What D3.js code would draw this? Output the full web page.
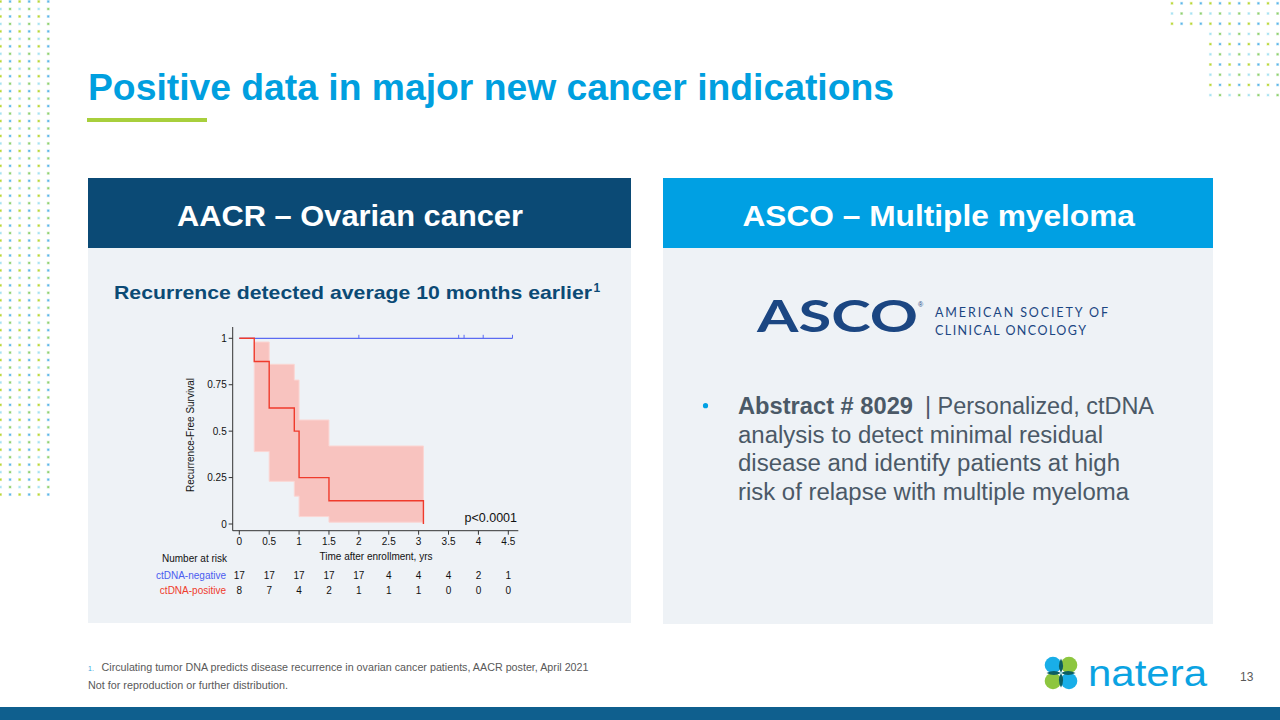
<!DOCTYPE html>
<html>
<head>
<meta charset="utf-8">
<script src="https://cdn.jsdelivr.net/npm/d3@7"></script>
<style>
  html, body { margin: 0; padding: 0; background: #fff; }
  svg { display: block; font-family: "Liberation Sans", Arial, sans-serif; }
</style>
</head>
<body>
<div id="slide"></div>
<script>
// --- chart data ---
const timeTicks = [0, 0.5, 1, 1.5, 2, 2.5, 3, 3.5, 4, 4.5];
const survTicks = [0, 0.25, 0.5, 0.75, 1];
const posTimes = [0, 0.25, 0.5, 0.92, 1.0, 1.5, 3.08];
const posSurv = [1, 0.875, 0.625, 0.5, 0.25, 0.125, 0];
const ciTimes = [0.25, 0.5, 0.92, 1.0, 1.5, 3.08];
const ciUpper = [0.98, 0.86, 0.775, 0.56, 0.42, 0.42];
const ciLower = [0.39, 0.23, 0.15, 0.04, 0.01, 0.01];
const negTimes = [0, 4.57];
const negSurv = [1, 1];
const negCensored = [2.0, 3.67, 3.76, 4.08, 4.57];
const riskLabels = ["ctDNA-negative", "ctDNA-positive"];
const atRiskNeg = [17, 17, 17, 17, 17, 4, 4, 4, 2, 1];
const atRiskPos = [8, 7, 4, 2, 1, 1, 1, 0, 0, 0];

const W = 1280, H = 720;
const svg = d3.select("#slide").append("svg")
  .attr("width", W).attr("height", H)
  .attr("viewBox", [0, 0, W, H]);

// --- decorative dot grids ---
const dotColors = [["#b9d636", "#5db6e8"], ["#a6e2f2", "#8fd070"]];
function dotGrid(cols, rows, x0, dx, y0, dy, skip) {
  const g = svg.append("g");
  rows.forEach(r => cols.forEach(c => {
    if (skip && skip(c, r)) return;
    const col = dotColors[r % 2][c % 2];
    g.append("rect")
      .attr("x", x0 + c * dx - 1.5).attr("y", y0 + r * dy - 1.5)
      .attr("width", 3).attr("height", 3)
      .attr("fill", col).attr("opacity", 0.35);
    g.append("rect")
      .attr("x", x0 + c * dx - 0.9).attr("y", y0 + r * dy - 0.9)
      .attr("width", 1.8).attr("height", 1.8)
      .attr("fill", col);
  }));
}
dotGrid(d3.range(6), d3.range(67), 0.5, 9.55, 1.5, 7.47);
dotGrid(d3.range(12), d3.range(10), 1172, 9.6, 3.3, 10.2, (c, r) => c < 4 && r > 2);

// fitted text helper: slide text is set wider than Liberation Sans, so stretch to the measured width
function fitText(sel, x, yy, str, len, attrs) {
  const t = sel.append("text").attr("x", x).attr("y", yy)
    .attr("textLength", len).attr("lengthAdjust", "spacingAndGlyphs").text(str);
  Object.entries(attrs || {}).forEach(([k, v]) => t.attr(k, v));
  return t;
}

// --- title ---
fitText(svg, 88, 100, "Positive data in major new cancer indications", 806,
  { "font-size": 36, "font-weight": "bold", fill: "#009fdf" });
svg.append("rect")
  .attr("x", 87).attr("y", 118).attr("width", 120).attr("height", 4)
  .attr("fill", "#a8cf3c");

// --- panels ---
function panel(x, w, headColor, title, tx, tlen, bottom) {
  svg.append("rect").attr("x", x).attr("y", 248).attr("width", w).attr("height", bottom - 248)
    .attr("fill", "#eef2f6");
  svg.append("rect").attr("x", x).attr("y", 178).attr("width", w).attr("height", 70)
    .attr("fill", headColor);
  fitText(svg, tx, 226, title, tlen,
    { "font-size": 29.5, "font-weight": "bold", fill: "#fff" });
}
panel(88, 543, "#0b4a75", "AACR \u2013 Ovarian cancer", 177, 346, 623);
panel(663, 550, "#00a0e3", "ASCO \u2013 Multiple myeloma", 742.5, 392.5, 624);

fitText(svg, 114, 299, "Recurrence detected average 10 months earlier", 478,
  { "font-size": 19, "font-weight": "bold", fill: "#0b4a75" });
svg.append("text").attr("x", 593.5).attr("y", 292).attr("font-size", 12)
  .attr("font-weight", "bold").attr("fill", "#0b4a75").text("1");

// --- Kaplan-Meier chart ---
const x = d3.scaleLinear().domain([0, 4.5]).range([239.3, 508.3]);
const y = d3.scaleLinear().domain([0, 1]).range([524, 338.3]);
const km = svg.append("g").attr("font-size", 10).attr("fill", "#111");

// confidence band
const band = ciTimes.map((t, i) => ({ t, hi: ciUpper[i], lo: ciLower[i] }));
km.append("path")
  .datum(band)
  .attr("fill", "#f8c3bf")
  .attr("stroke", "#fbd6d3")
  .attr("stroke-width", 1)
  .attr("d", d3.area().curve(d3.curveStepAfter)
    .x(d => x(d.t)).y0(d => y(d.lo)).y1(d => y(d.hi)));

// axes
const axisColor = "#333";
km.append("line")
  .attr("x1", 232.7).attr("x2", 232.7).attr("y1", 327).attr("y2", 530.7)
  .attr("stroke", axisColor);
km.append("line")
  .attr("x1", 232.7).attr("x2", 518.3).attr("y1", 530.7).attr("y2", 530.7)
  .attr("stroke", axisColor);
const xt = km.append("g").selectAll("g").data(timeTicks).join("g")
  .attr("transform", d => `translate(${x(d)},530.7)`);
xt.append("line").attr("y2", 4).attr("stroke", axisColor);
xt.append("text").attr("y", 14).attr("text-anchor", "middle")
  .text(d => d3.format("~g")(d));
const yt = km.append("g").selectAll("g").data(survTicks).join("g")
  .attr("transform", d => `translate(232.7,${y(d)})`);
yt.append("line").attr("x2", -4).attr("stroke", axisColor);
yt.append("text").attr("x", -6).attr("dy", "0.35em").attr("text-anchor", "end")
  .text(d => d3.format("~g")(d));

km.append("text")
  .attr("transform", "translate(194,435) rotate(-90)")
  .attr("text-anchor", "middle")
  .text("Recurrence-Free Survival");
km.append("text")
  .attr("x", 376).attr("y", 560).attr("text-anchor", "middle")
  .text("Time after enrollment, yrs");

// curves
const step = d3.line().curve(d3.curveStepAfter).x(d => x(d[0])).y(d => y(d[1]));
km.append("path")
  .datum(d3.zip(negTimes, negSurv))
  .attr("fill", "none").attr("stroke", "#5b6bf2").attr("stroke-width", 1.2)
  .attr("d", step);
km.append("g").selectAll("line").data(negCensored).join("line")
  .attr("x1", d => x(d)).attr("x2", d => x(d))
  .attr("y1", y(1)).attr("y2", y(1) - 3.5)
  .attr("stroke", "#5b6bf2").attr("stroke-width", 1);
km.append("path")
  .datum(d3.zip(posTimes, posSurv))
  .attr("fill", "none").attr("stroke", "#ef3b2c").attr("stroke-width", 1.4)
  .attr("d", step);

km.append("text")
  .attr("x", 517).attr("y", 522).attr("text-anchor", "end")
  .attr("font-size", 12.5)
  .text("p<0.0001");

// number at risk
km.append("text").attr("x", 162).attr("y", 562).text("Number at risk");
const riskColors = ["#4b5cf0", "#ef3b2c"];
[atRiskNeg, atRiskPos].forEach((row, i) => {
  const ry = 578.5 + i * 15.7;
  km.append("text").attr("x", 226).attr("y", ry).attr("text-anchor", "end")
    .attr("fill", riskColors[i]).text(riskLabels[i]);
  km.append("g").selectAll("text").data(row).join("text")
    .attr("x", (d, j) => x(timeTicks[j])).attr("y", ry)
    .attr("text-anchor", "middle")
    .text(d => d);
});

// --- ASCO logo ---
const navy = "#1b4682";
svg.append("text")
  .attr("x", 757).attr("y", 331.7)
  .attr("font-family", "Lato, 'Noto Sans', sans-serif")
  .attr("font-size", 43).attr("font-weight", 700)
  .attr("textLength", 161).attr("lengthAdjust", "spacingAndGlyphs")
  .attr("fill", navy).text("ASCO");
svg.append("text")
  .attr("x", 918).attr("y", 307).attr("font-size", 7).attr("fill", navy).text("\u00ae");
const sm = svg.append("g")
  .attr("font-family", "Lato, 'Noto Sans', sans-serif")
  .attr("font-size", 12.5).attr("fill", navy);
sm.append("text").attr("x", 935).attr("y", 316.7)
  .attr("textLength", 173).attr("lengthAdjust", "spacing").text("AMERICAN SOCIETY OF");
sm.append("text").attr("x", 935).attr("y", 335)
  .attr("textLength", 151).attr("lengthAdjust", "spacing").text("CLINICAL ONCOLOGY");

// --- bullet ---
svg.append("circle").attr("cx", 705.5).attr("cy", 405.7).attr("r", 2.6).attr("fill", "#00a0e3");
const bulletBold = "Abstract # 8029";
const bulletLines = [
  "| Personalized, ctDNA",
  "analysis to detect minimal residual",
  "disease and identify patients at high",
  "risk of relapse with multiple myeloma"
];
const bulletLens = [229, 365, 382, 391];
const bodyCol = "#4b5967";
fitText(svg, 738, 414, bulletBold, 175,
  { "font-size": 23.3, "font-weight": "bold", fill: bodyCol });
fitText(svg, 925, 414, bulletLines[0], bulletLens[0], { "font-size": 23.3, fill: bodyCol });
bulletLines.slice(1).forEach((ln, i) => {
  fitText(svg, 738, 414 + (i + 1) * 28.6, ln, bulletLens[i + 1],
    { "font-size": 23.3, fill: bodyCol });
});

// --- footnotes ---
svg.append("text").attr("x", 88).attr("y", 671).attr("font-size", 7)
  .attr("fill", "#3aa6dd").text("1.");
fitText(svg, 101.5, 671,
  "Circulating tumor  DNA  predicts disease recurrence in ovarian cancer patients, AACR poster, April 2021",
  487, { "font-size": 10.3, fill: "#595959" });
fitText(svg, 88, 689, "Not  for reproduction or further distribution.", 200,
  { "font-size": 10.3, fill: "#595959" });

// --- natera logo ---
const logo = svg.append("g").attr("transform", "translate(1061,673)");
[[-8, -8, "#19aee8"], [8, -8, "#8dc63f"], [-8, 8, "#8dc63f"], [8, 8, "#19aee8"]]
  .forEach(([cx, cy, c]) => logo.append("circle").attr("cx", cx).attr("cy", cy).attr("r", 8.3).attr("fill", c));
[0, 90, 180, 270].forEach(a => logo.append("path")
  .attr("d", "M0,0Q4.2,-7 0,-14.5Q-4.2,-7 0,0Z")
  .attr("transform", `rotate(${a})`)
  .attr("fill", "#0d5e62"));
logo.append("circle").attr("r", 1.2).attr("fill", "#9ad8e2");
svg.append("text").attr("x", 1088).attr("y", 686)
  .attr("font-size", 37).attr("fill", "#0ba3e2")
  .attr("textLength", 119).attr("lengthAdjust", "spacingAndGlyphs")
  .text("natera");
svg.append("text").attr("x", 1240).attr("y", 680.5).attr("font-size", 12)
  .attr("fill", "#595959").text("13");

// --- bottom bar ---
svg.append("rect").attr("x", 0).attr("y", 707).attr("width", W).attr("height", 13)
  .attr("fill", "#0f5f8e");
</script>
</body>
</html>
